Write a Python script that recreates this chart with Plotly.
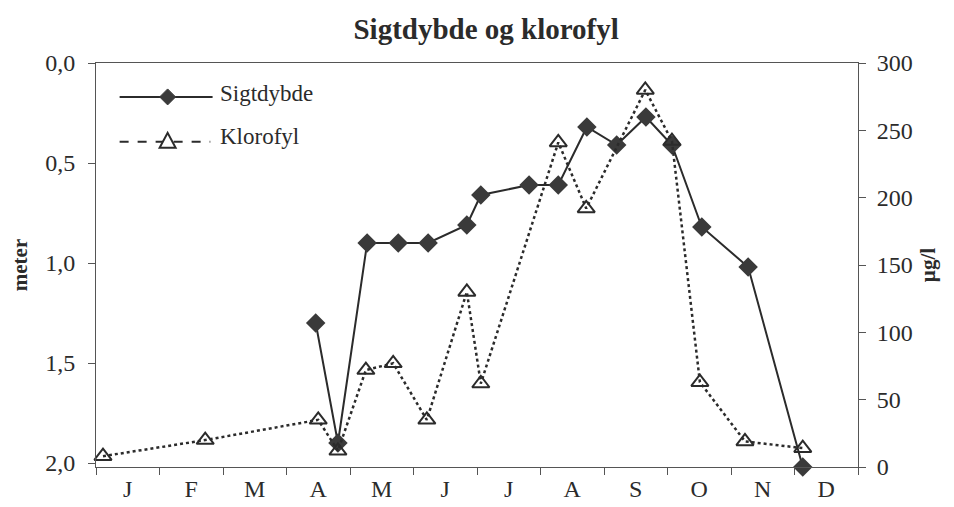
import plotly.graph_objects as go

# month position (0 = start of Jan, 12 = end of Dec)
sigt_month = [3.46, 3.81, 4.27, 4.76, 5.23, 5.84, 6.06, 6.82, 7.28, 7.73, 8.20, 8.66, 9.07, 9.54, 10.27, 11.13]
sigt_depth = [1.30, 1.90, 0.90, 0.90, 0.90, 0.81, 0.66, 0.61, 0.61, 0.32, 0.41, 0.27, 0.41, 0.82, 1.02, 2.02]

klor_month = [0.11, 1.72, 3.50, 3.81, 4.25, 4.68, 5.21, 5.84, 6.06, 7.28, 7.72, 8.65, 9.07, 9.51, 10.22, 11.13]
klor_value = [8, 20, 35, 12, 72, 77, 35, 130, 62, 241, 192, 280, 242, 63, 19, 14]

month_labels = ["J", "F", "M", "A", "M", "J", "J", "A", "S", "O", "N", "D"]
depth_ticks = [0.0, 0.5, 1.0, 1.5, 2.0]
klor_ticks = [0, 50, 100, 150, 200, 250, 300]

FONT = "Liberation Serif"
INK = "#2b2b2b"
AX = "#555"

fig = go.Figure()
fig.add_trace(go.Scatter(
    x=sigt_month, y=sigt_depth, name="Sigtdybde", mode="lines+markers",
    line=dict(color=INK, width=2),
    marker=dict(symbol="diamond", size=15, color="#3a3a3a"),
    cliponaxis=False, showlegend=False,
))
fig.add_trace(go.Scatter(
    x=klor_month, y=klor_value, name="Klorofyl", mode="lines+markers", yaxis="y2",
    line=dict(color=INK, width=2.5, dash="dot"),
    marker=dict(symbol="triangle-up-open", size=15, color=INK, line=dict(width=2)),
    cliponaxis=False, showlegend=False,
))

# hand-drawn legend in the upper left corner (pixel-sized symbols)
legend_shapes = [
    dict(type="line", xref="paper", yref="paper", x0=0.031, x1=0.153, y0=0.916, y1=0.916,
         line=dict(color=INK, width=2)),
    dict(type="path", xref="paper", yref="paper", xsizemode="pixel", ysizemode="pixel",
         xanchor=0.094, yanchor=0.916, path="M -8 0 L 0 8 L 8 0 L 0 -8 Z",
         fillcolor="#3a3a3a", line=dict(color="#3a3a3a", width=1)),
    dict(type="line", xref="paper", yref="paper", x0=0.031, x1=0.150, y0=0.805, y1=0.805,
         line=dict(color=INK, width=2, dash="dash")),
    dict(type="path", xref="paper", yref="paper", xsizemode="pixel", ysizemode="pixel",
         xanchor=0.094, yanchor=0.805, path="M -8 -6 L 8 -6 L 0 9 Z",
         fillcolor="white", line=dict(color=INK, width=2)),
]
legend_texts = [
    dict(text="Sigtdybde", x=0.160, y=0.924),
    dict(text="Klorofyl", x=0.160, y=0.818),
]

# the page body adds an 8px margin, so the figure starts at (8, 8)
fig.update_layout(
    width=938, height=499,
    margin=dict(l=88, r=88, t=55, b=40),
    paper_bgcolor="white", plot_bgcolor="white",
    separators=",.",
    font=dict(family=FONT, size=24, color=INK),
    title=dict(text="<b>Sigtdybde og klorofyl</b>", x=0.512, xref="paper", xanchor="center",
               y=0.958, yanchor="middle", font=dict(size=29, family=FONT, color=INK)),
    shapes=legend_shapes,
    annotations=[dict(xref="paper", yref="paper", xanchor="left", yanchor="middle",
                      showarrow=False, font=dict(size=23, family=FONT, color=INK), **t)
                 for t in legend_texts],
    xaxis=dict(
        range=[0, 12], showgrid=False, zeroline=False, automargin=False,
        showline=True, linecolor=AX, linewidth=1, mirror=True,
        tickmode="array", tickvals=[i + 0.5 for i in range(12)], ticktext=month_labels,
        ticks="", ticklen=0,
        minor=dict(tickmode="array", tickvals=list(range(13)), ticks="outside", ticklen=7,
                   tickcolor=AX, showgrid=False),
        tickfont=dict(size=24),
    ),
    yaxis=dict(
        range=[2.02, 0.0], showgrid=False, zeroline=False, automargin=False,
        showline=True, linecolor=AX, linewidth=1,
        tickmode="array", tickvals=depth_ticks, tickformat=".1f",
        ticks="outside", ticklen=7, tickcolor=AX, tickfont=dict(size=24),
        ticklabelstandoff=8,
        title=dict(text="<b>meter</b>", font=dict(size=21), standoff=16),
    ),
    yaxis2=dict(
        range=[0, 300], overlaying="y", side="right", showgrid=False, zeroline=False,
        automargin=False, showline=True, linecolor=AX, linewidth=1,
        tickmode="array", tickvals=klor_ticks,
        ticks="outside", ticklen=7, tickcolor=AX, tickfont=dict(size=24),
        ticklabelstandoff=6,
        title=dict(text="<b>µg/l</b>", font=dict(size=21), standoff=8),
    ),
)

fig.write_html("out.html")
